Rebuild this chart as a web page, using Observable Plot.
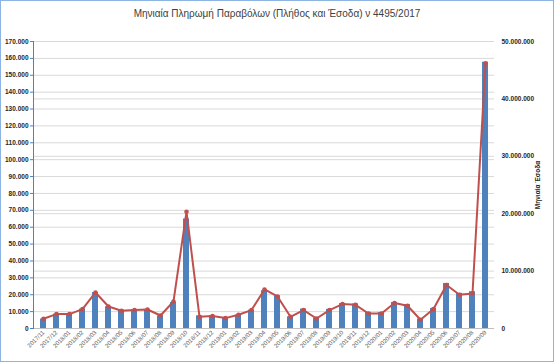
<!DOCTYPE html>
<html><head><meta charset="utf-8">
<script src="https://cdn.jsdelivr.net/npm/d3@7"></script>
<script src="https://cdn.jsdelivr.net/npm/@observablehq/plot@0.6"></script>
<style>
body{margin:0;background:#fff;}
#frame{position:relative;width:554px;height:362px;box-sizing:border-box;border:1px solid #8db3e2;background:#fff;font-family:"Liberation Sans",Arial,sans-serif;overflow:hidden}
#title{height:26px;line-height:26px;text-align:center;font-size:10px;color:#404040;}
#chart svg{display:block}
</style></head><body>
<div id="frame"><div id="title">Μηνιαία Πληρωμή Παραβόλων (Πλήθος και Έσοδα) ν 4495/2017</div><div id="chart"></div></div>
<script>
const months = ["2017/11","2017/12","2018/01","2018/02","2018/03","2018/04","2018/05","2018/06","2018/07","2018/08","2018/09","2018/10","2018/11","2018/12","2019/01","2019/02","2019/03","2019/04","2019/05","2019/06","2019/07","2019/08","2019/09","2019/10","2019/11","2019/12","2020/01","2020/02","2020/03","2020/04","2020/05","2020/06","2020/07","2020/08","2020/09"];
const counts = [5600,8500,8500,11500,21300,12900,10900,10900,11300,7500,15400,64900,7500,7500,6200,7900,10900,22400,19400,6900,11500,6200,11300,14800,14500,9500,9500,15400,14100,5600,11900,26700,20800,21800,157700];
const revenue = [1700000,2510000,2510000,3380000,6280000,3840000,3090000,3210000,3310000,2270000,4710000,20350000,2040000,2160000,1810000,2390000,3210000,6800000,5580000,2040000,3210000,1740000,3210000,4260000,4130000,2620000,2620000,4430000,3960000,1520000,3380000,7570000,5880000,6100000,46200000];
const leftTicks = d3.range(0, 170001, 10000);
const rightTicks = [0, 10000000, 20000000, 30000000, 40000000, 50000000];
const leftMax = 170000, rightMax = 50000000;
const k = leftMax / rightMax;

const rows = months.map((m, i) => ({month: m, count: counts[i], rev: revenue[i] * k}));
const fmt = v => v === 0 ? "0" : d3.format(",")(v).replace(/,/g, ".");
const gridVals = Array.from(new Set([...leftTicks.slice(1), ...rightTicks.slice(1).map(v => v * k)]));

const chart = Plot.plot({
  width: 552, height: 334,
  marginTop: 14, marginBottom: 33, marginLeft: 32, marginRight: 59,
  style: {fontFamily: "Liberation Sans, Arial, sans-serif", fontSize: "6.5px", background: "#fff"},
  x: {type: "band", domain: months, paddingInner: 0.55, paddingOuter: 0.275},
  y: {domain: [0, leftMax]},
  marks: [
    Plot.ruleY(gridVals, {stroke: "#d9d9d9", strokeWidth: 1}),
    Plot.barY(rows, {x: "month", y: "count", fill: "#4f81bd"}),
    Plot.ruleY([0], {stroke: "#bfbfbf"}),
    Plot.frame({anchor: "left", stroke: "#4f81bd"}),
    Plot.line(rows, {x: "month", y: "rev", stroke: "#c0504d", strokeWidth: 2}),
    Plot.dot(rows, {x: "month", y: "rev", fill: "#c0504d", r: 2.3}),
    Plot.axisY({ticks: leftTicks, tickFormat: fmt, tickSize: 3, tickPadding: 2, stroke: "#4f81bd", fill: "#262626", fontWeight: "bold", label: null}),
    Plot.axisY({anchor: "right", ticks: rightTicks.map(v => v * k), tickFormat: d => fmt(Math.round(d / k)), tickSize: 0, tickPadding: 7, fill: "#262626", fontWeight: "bold", label: "Μηνιαία Έσοδα", labelAnchor: "center", labelOffset: 45, labelArrow: "none"}),
    Plot.axisX({tickRotate: -45, tickSize: 0, tickPadding: 3, fontSize: 6, fill: "#595959", label: null})
  ]
});
document.getElementById("chart").appendChild(chart);
</script>
</body></html>
